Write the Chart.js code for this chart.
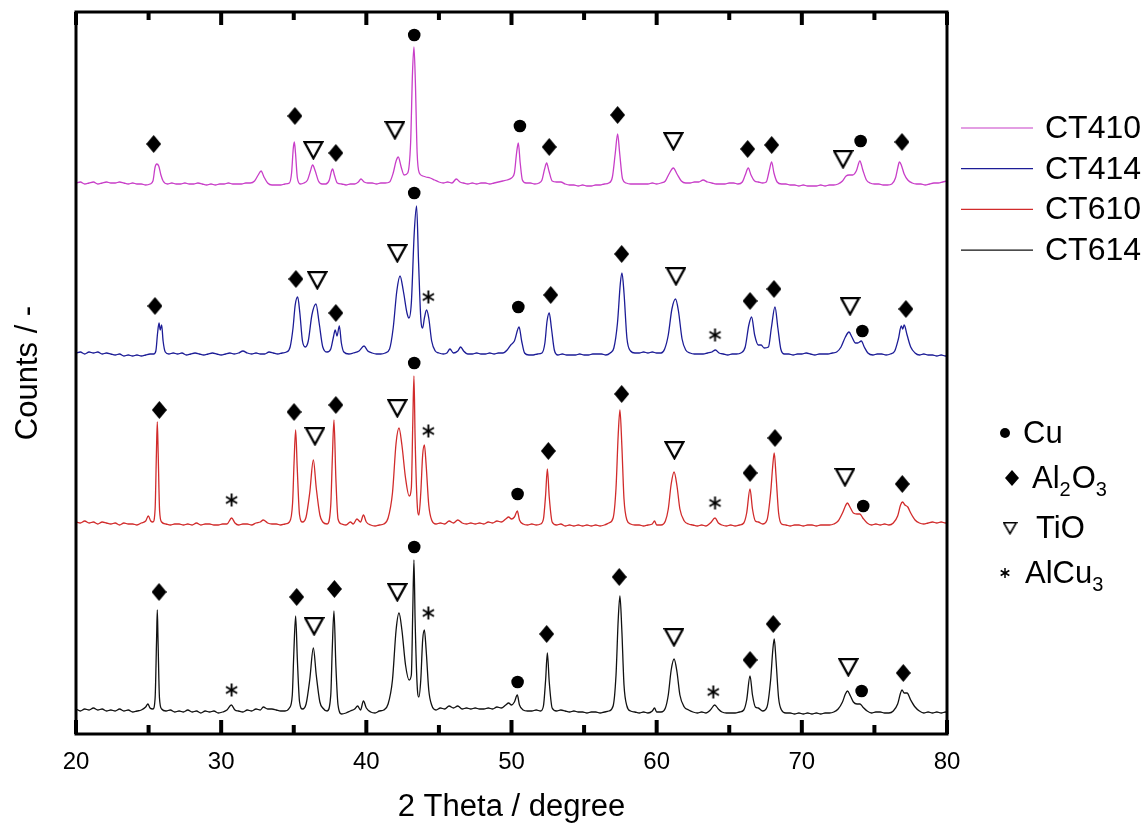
<!DOCTYPE html>
<html>
<head>
<meta charset="utf-8">
<title>XRD patterns</title>
<script src="https://cdn.jsdelivr.net/npm/chart.js@4.4.0/dist/chart.umd.min.js"></script>
<style>
  html, body { margin: 0; padding: 0; background: #fff; }
</style>
</head>
<body>
<canvas id="xrd" width="1145" height="825"></canvas>
<script>
// ---- data (2theta, counts above each pattern's own baseline) ----
const sampleNames = ['CT410', 'CT414', 'CT610', 'CT614'];
const baseOffsets = [551, 381, 211, 24];

const ct410 = [
  [20.0,0],[20.3,1],[20.6,-1],[20.9,0],[21.2,1],[21.5,-1],[21.8,0],[22.1,1],[22.4,0],[22.7,0],[23.0,1],[23.3,0],[23.6,-1],[23.9,0],
  [24.2,-1],[24.5,-1],[24.8,-2],[25.1,-1],[25.3,2],[25.45,16],[25.56,19],[25.7,17],[25.85,8],[26.0,2],[26.3,-1],[26.6,0],[26.9,-1],
  [27.2,-1],[27.5,0],[27.8,-1],[28.1,-1],[28.4,0],[28.7,-1],[29.0,-2],[29.3,-1],[29.6,-2],[29.9,-1],[30.2,-1],[30.5,0],[30.8,-1],
  [31.1,-1],[31.4,-1],[31.7,0],[32.0,0],[32.3,2],[32.55,8],[32.75,12],[32.95,6],[33.2,0],[33.5,-2],[33.8,-2],[34.1,-2],[34.4,-1],
  [34.7,0],[34.85,10],[34.97,35],[35.04,41],[35.12,30],[35.25,5],[35.45,-1],[35.7,0],[35.95,3],[36.15,12],[36.3,18],[36.48,12],
  [36.7,2],[36.95,-1],[37.2,-1],[37.45,3],[37.6,12],[37.68,14],[37.8,8],[38.0,0],[38.3,-1],[38.6,-2],[38.9,-1],[39.2,-1],[39.45,1],
  [39.63,4],[39.85,1],[40.1,0],[40.4,0],[40.7,-1],[41.0,0],[41.3,0],[41.6,1],[41.85,10],[42.05,22],[42.2,26],[42.4,16],[42.6,8],
  [42.85,10],[43.05,40],[43.18,110],[43.28,136],[43.38,100],[43.5,30],[43.65,10],[43.9,7],[44.1,6],[44.4,5],[44.7,3],[45.0,1],
  [45.3,0],[45.6,1],[45.9,0],[46.2,4],[46.45,1],[46.7,0],[47.0,-1],[47.3,0],[47.6,-1],[47.9,0],[48.2,0],[48.5,-1],[48.8,0],[49.1,1],
  [49.4,2],[49.7,3],[50.0,5],[50.2,10],[50.35,30],[50.47,40],[50.6,20],[50.75,3],[51.0,0],[51.3,0],[51.6,-1],[51.9,0],[52.1,3],
  [52.28,14],[52.42,20],[52.58,12],[52.8,2],[53.1,1],[53.4,1],[53.7,-1],[54.0,-2],[54.3,-2],[54.6,-3],[54.9,-2],[55.2,-3],[55.5,-3],
  [55.8,-2],[56.1,-2],[56.4,-1],[56.7,0],[56.95,6],[57.15,30],[57.31,49],[57.45,30],[57.65,4],[57.9,0],[58.2,-1],[58.5,-1],[58.8,-1],
  [59.1,-1],[59.4,-1],[59.7,0],[60.0,-1],[60.3,0],[60.6,2],[60.85,9],[61.15,15],[61.4,9],[61.7,2],[62.0,0],[62.3,0],[62.6,1],
  [62.9,1],[63.2,3],[63.5,1],[63.8,0],[64.1,-1],[64.4,-1],[64.7,-1],[65.0,0],[65.3,0],[65.6,-1],[65.9,1],[66.1,8],[66.31,15],
  [66.5,8],[66.75,2],[67.0,1],[67.3,0],[67.55,1],[67.75,12],[67.92,21],[68.08,10],[68.3,1],[68.6,-1],[68.9,-1],[69.2,-2],[69.5,-2],
  [69.8,-3],[70.1,-2],[70.4,-3],[70.7,-3],[71.0,-3],[71.3,-2],[71.6,-3],[71.9,-2],[72.2,-2],[72.5,-1],[72.8,2],[73.05,7],[73.25,8],
  [73.5,8],[73.75,12],[74.0,22],[74.2,13],[74.45,3],[74.7,0],[75.0,-1],[75.3,-1],[75.6,-2],[75.9,-2],[76.2,-1],[76.45,5],[76.62,16],
  [76.72,21],[76.85,18],[77.05,9],[77.3,3],[77.6,0],[77.9,-1],[78.2,-1],[78.5,-2],[78.8,-1],[79.1,0],[79.4,0],[79.7,1],[80.0,2]
];

const ct414 = [
  [20.0,0],[20.3,1],[20.6,-1],[20.9,1],[21.2,0],[21.5,1],[21.8,-1],[22.1,0],[22.4,-1],[22.7,-2],[23.0,-1],[23.3,-3],[23.6,-2],[23.9,-3],
  [24.2,-2],[24.5,-3],[24.8,-2],[25.1,-1],[25.35,-1],[25.5,2],[25.62,20],[25.72,30],[25.8,23],[25.9,28],[26.0,12],[26.15,1],[26.4,-1],
  [26.7,0],[27.0,-1],[27.3,0],[27.6,-2],[27.9,-1],[28.2,0],[28.5,-1],[28.8,-2],[29.1,-1],[29.4,0],[29.7,-1],[30.0,-2],[30.3,-1],
  [30.6,0],[30.9,-1],[31.2,0],[31.5,2],[31.8,0],[32.1,-1],[32.4,0],[32.7,-1],[33.0,-1],[33.3,1],[33.6,0],[33.9,-1],[34.2,0],[34.5,1],
  [34.75,6],[34.95,25],[35.1,48],[35.27,56],[35.42,40],[35.6,12],[35.8,6],[36.0,12],[36.25,38],[36.53,49],[36.75,30],[37.0,6],
  [37.3,1],[37.55,4],[37.72,15],[37.86,23],[37.98,17],[38.14,27],[38.28,10],[38.45,1],[38.8,-1],[39.1,0],[39.5,2],[39.84,7],[40.1,2],
  [40.4,0],[40.7,-1],[41.0,-1],[41.3,0],[41.6,4],[41.85,25],[42.1,62],[42.32,77],[42.55,62],[42.8,40],[42.94,35],[43.1,50],[43.3,120],
  [43.46,147],[43.6,90],[43.75,35],[43.88,25],[44.0,35],[44.15,43],[44.3,35],[44.5,12],[44.75,2],[45.0,0],[45.3,-1],[45.55,0],
  [45.76,4],[46.0,0],[46.3,2],[46.5,6],[46.7,2],[47.0,-1],[47.3,-1],[47.6,0],[47.9,-1],[48.2,-1],[48.5,0],[48.8,-1],[49.1,0],[49.4,0],
  [49.7,3],[49.95,8],[50.2,12],[50.52,26],[50.7,12],[50.9,0],[51.2,-2],[51.5,-2],[51.8,-1],[52.1,0],[52.3,10],[52.45,32],[52.6,40],
  [52.75,25],[52.95,3],[53.2,-2],[53.5,-1],[53.8,-2],[54.1,-2],[54.4,-2],[54.7,-1],[55.0,-2],[55.3,-2],[55.6,-1],[55.9,-1],[56.2,-1],
  [56.5,-2],[56.8,0],[57.05,5],[57.3,30],[57.5,70],[57.61,80],[57.75,60],[57.95,15],[58.2,2],[58.5,0],[58.8,0],[59.1,1],[59.4,0],
  [59.7,1],[60.0,0],[60.3,0],[60.55,4],[60.8,18],[61.05,44],[61.3,54],[61.5,42],[61.75,14],[62.0,3],[62.3,0],[62.6,-1],[62.9,-1],
  [63.2,-1],[63.5,0],[63.8,1],[64.05,3],[64.3,0],[64.6,-1],[64.9,-2],[65.2,-1],[65.5,-1],[65.8,0],[66.1,6],[66.35,28],[66.54,36],
  [66.75,18],[67.0,8],[67.2,8],[67.4,5],[67.7,6],[67.9,25],[68.15,46],[68.35,25],[68.55,4],[68.8,-1],[69.1,-1],[69.4,-2],[69.7,-1],
  [70.0,-1],[70.3,0],[70.6,-1],[70.9,-2],[71.2,-1],[71.5,-1],[71.8,-1],[72.1,0],[72.4,1],[72.7,6],[73.0,16],[73.25,21],[73.45,16],
  [73.7,10],[73.85,10],[74.1,12],[74.3,6],[74.55,0],[74.9,-2],[75.2,-1],[75.5,-1],[75.8,-2],[76.1,-1],[76.4,2],[76.65,14],[76.85,27],
  [76.95,24],[77.05,28],[77.25,18],[77.5,6],[77.8,0],[78.1,-2],[78.4,-1],[78.7,-2],[79.0,-2],[79.3,-3],[79.6,-2],[79.9,-3],[80.0,-3]
];

const ct610 = [
  [20.0,1],[20.3,0],[20.6,2],[20.9,0],[21.2,1],[21.5,-1],[21.8,1],[22.1,0],[22.4,-1],[22.7,0],[23.0,-2],[23.3,0],[23.6,-1],[23.9,-1],
  [24.2,-2],[24.5,0],[24.8,2],[24.98,7],[25.15,2],[25.3,1],[25.45,14],[25.54,70],[25.6,101],[25.66,70],[25.76,12],[25.9,1],[26.2,-1],
  [26.5,-2],[26.8,-1],[27.1,-1],[27.4,-2],[27.7,-1],[28.0,-2],[28.3,0],[28.6,-2],[28.9,-1],[29.2,-1],[29.5,-2],[29.8,-2],[30.1,-1],
  [30.4,-1],[30.72,5],[30.95,0],[31.2,-2],[31.5,-1],[31.8,-1],[32.1,-2],[32.4,0],[32.7,1],[32.9,3],[33.2,0],[33.5,-1],[33.8,-1],
  [34.1,-2],[34.4,-1],[34.7,1],[34.92,20],[35.02,60],[35.13,93],[35.24,55],[35.4,8],[35.6,1],[35.85,6],[36.1,30],[36.35,63],[36.55,35],
  [36.8,8],[37.0,1],[37.3,-1],[37.55,18],[37.66,65],[37.77,103],[37.9,45],[38.05,4],[38.3,-1],[38.6,-2],[38.9,1],[39.1,-1],[39.35,4],
  [39.6,1],[39.8,8],[40.0,1],[40.3,-2],[40.6,-3],[40.9,-2],[41.2,-1],[41.5,5],[41.8,30],[42.05,80],[42.25,95],[42.45,78],[42.7,45],
  [42.95,27],[43.1,35],[43.2,100],[43.28,147],[43.36,85],[43.5,20],[43.62,8],[43.75,30],[43.88,68],[44.0,78],[44.12,58],[44.3,18],
  [44.5,3],[44.8,-1],[45.1,0],[45.4,-1],[45.7,2],[46.0,0],[46.3,3],[46.6,0],[46.9,-1],[47.2,0],[47.5,-1],[47.8,0],[48.1,-1],[48.4,1],
  [48.7,0],[49.0,2],[49.3,1],[49.6,4],[49.8,6],[50.0,4],[50.2,6],[50.4,12],[50.55,3],[50.8,-1],[51.1,-2],[51.4,-1],[51.7,-2],[52.0,-1],
  [52.2,4],[52.35,28],[52.47,54],[52.6,26],[52.8,1],[53.1,-2],[53.4,-1],[53.7,-3],[54.0,-2],[54.3,-3],[54.6,-2],[54.9,-3],[55.2,-2],
  [55.5,-3],[55.8,-2],[56.1,-3],[56.4,-2],[56.7,0],[57.0,5],[57.2,35],[57.35,88],[57.47,113],[57.6,78],[57.75,24],[57.95,3],[58.2,-1],
  [58.5,-2],[58.8,-2],[59.1,-3],[59.4,-2],[59.7,-1],[59.85,2],[60.0,-2],[60.3,-2],[60.6,2],[60.8,14],[61.0,39],[61.2,51],[61.4,37],
  [61.6,14],[61.9,2],[62.2,-1],[62.5,-2],[62.8,-3],[63.1,-2],[63.4,-3],[63.7,0],[64.02,5],[64.25,0],[64.5,-2],[64.8,-3],[65.1,-2],
  [65.4,-3],[65.7,-2],[66.0,0],[66.2,10],[66.43,34],[66.6,14],[66.8,2],[67.0,1],[67.3,-1],[67.6,3],[67.85,30],[68.0,58],[68.1,70],
  [68.22,48],[68.4,10],[68.6,-1],[68.9,-2],[69.2,-3],[69.5,-2],[69.8,-2],[70.1,-3],[70.4,-2],[70.7,-2],[71.0,-3],[71.3,-2],[71.6,-2],
  [71.9,-2],[72.2,-1],[72.5,2],[72.8,10],[73.0,17],[73.13,20],[73.35,15],[73.55,10],[73.8,9],[74.0,9],[74.2,5],[74.5,0],[74.8,-2],
  [75.1,-1],[75.4,-2],[75.7,-1],[76.0,-2],[76.3,0],[76.6,7],[76.8,18],[76.94,21],[77.1,18],[77.3,16],[77.5,10],[77.8,3],[78.1,0],
  [78.4,-1],[78.7,0],[79.0,1],[79.3,0],[79.6,1],[79.9,0],[80.0,1]
];

const ct614 = [
  [20.0,1],[20.3,-1],[20.6,1],[20.9,0],[21.2,2],[21.5,0],[21.8,1],[22.1,-1],[22.4,0],[22.7,-1],[23.0,1],[23.3,-1],[23.6,0],[23.9,-2],
  [24.2,-1],[24.5,0],[24.8,3],[24.95,6],[25.1,2],[25.3,1],[25.45,12],[25.55,70],[25.6,100],[25.65,70],[25.75,12],[25.9,1],[26.2,-1],
  [26.5,0],[26.8,-2],[27.1,-1],[27.4,-2],[27.7,0],[28.0,-2],[28.3,-1],[28.6,-3],[28.9,-1],[29.2,-2],[29.5,-1],[29.8,-3],[30.1,-2],
  [30.4,0],[30.7,5],[30.95,0],[31.2,-1],[31.5,-2],[31.8,0],[32.1,-1],[32.4,1],[32.7,0],[32.9,3],[33.2,1],[33.5,1],[33.8,0],[34.1,-1],
  [34.4,-1],[34.7,2],[34.9,15],[35.0,55],[35.13,94],[35.25,50],[35.4,8],[35.6,1],[35.85,6],[36.1,30],[36.35,62],[36.55,35],[36.8,8],
  [37.0,2],[37.3,-1],[37.55,15],[37.65,60],[37.77,99],[37.9,45],[38.05,5],[38.3,-4],[38.6,-3],[38.9,-1],[39.2,1],[39.4,4],[39.6,0],
  [39.8,9],[40.0,2],[40.3,-2],[40.6,-3],[40.9,-1],[41.2,0],[41.5,6],[41.8,30],[42.05,80],[42.25,97],[42.45,80],[42.7,45],[42.95,30],
  [43.1,35],[43.2,100],[43.28,150],[43.36,90],[43.5,25],[43.62,13],[43.75,30],[43.88,70],[44.0,80],[44.12,60],[44.3,20],[44.5,5],
  [44.8,0],[45.1,2],[45.4,1],[45.7,4],[46.0,2],[46.3,4],[46.6,1],[46.9,2],[47.2,1],[47.5,2],[47.8,1],[48.1,1],[48.4,2],[48.7,1],
  [49.0,3],[49.3,2],[49.6,5],[49.8,7],[50.0,5],[50.2,8],[50.4,15],[50.55,5],[50.8,0],[51.1,-1],[51.4,-1],[51.7,0],[52.0,-1],[52.2,4],
  [52.35,30],[52.47,57],[52.6,28],[52.8,2],[53.1,-1],[53.4,0],[53.7,-1],[54.0,-2],[54.3,-1],[54.6,-2],[54.9,-2],[55.2,-3],[55.5,-2],
  [55.8,-2],[56.1,-3],[56.4,-2],[56.7,-1],[57.0,4],[57.2,35],[57.35,90],[57.47,114],[57.6,80],[57.75,25],[57.95,4],[58.2,-1],[58.5,-2],
  [58.8,-3],[59.1,-2],[59.4,-3],[59.7,-1],[59.85,2],[60.0,-2],[60.3,-2],[60.6,2],[60.8,15],[61.0,40],[61.2,51],[61.4,38],[61.6,15],
  [61.9,3],[62.2,0],[62.5,-2],[62.8,-3],[63.1,-2],[63.4,-3],[63.7,0],[64.0,5],[64.25,1],[64.5,-2],[64.8,-3],[65.1,-3],[65.4,-3],
  [65.7,-2],[66.0,0],[66.2,10],[66.43,34],[66.6,15],[66.8,3],[67.0,2],[67.3,-1],[67.6,3],[67.85,30],[68.0,60],[68.1,71],[68.22,50],
  [68.4,12],[68.6,0],[68.9,-3],[69.2,-3],[69.5,-4],[69.8,-3],[70.1,-4],[70.4,-3],[70.7,-4],[71.0,-3],[71.3,-4],[71.6,-3],[71.9,-3],
  [72.2,-2],[72.5,1],[72.8,8],[73.0,16],[73.15,19],[73.35,14],[73.55,8],[73.8,6],[74.0,6],[74.2,3],[74.5,-1],[74.8,-3],[75.1,-2],
  [75.4,-2],[75.7,-3],[76.0,-3],[76.3,-1],[76.6,6],[76.8,17],[76.9,20],[77.05,17],[77.25,17],[77.5,10],[77.8,3],[78.1,-1],[78.4,-3],
  [78.7,-2],[79.0,-3],[79.3,-2],[79.6,-3],[79.9,-2],[80.0,-3]
];

// phase markers: [2theta, counts on the stacked axis]
const cuMarks = [
  [43.3,699],[50.58,608],[74.05,593],
  [43.3,541],[50.47,427],[74.17,403],
  [43.3,371],[50.42,240],[74.23,228],
  [43.3,187],[50.42,52],[74.12,43]
];
const al2o3Marks = [
  [25.35,590],[35.08,618],[37.9,581],[52.6,587],[57.31,619],[66.27,585],[67.92,589],[76.9,592],
  [25.44,428],[35.15,455],[37.9,421],[52.7,439],[57.59,480],[66.43,433],[68.08,445],[77.17,425],
  [25.74,324],[35.02,322],[37.9,329],[52.54,283],[57.59,340],[66.43,261],[68.15,296],[76.92,250],
  [25.72,142],[35.2,137],[37.8,145],[52.42,100],[57.42,157],[66.43,74],[68.03,110],[76.99,61]
];
const tioMarks = [
  [36.35,584],[41.97,604],[61.15,593],[72.84,575],
  [36.62,454],[42.13,481],[61.33,458],[73.32,428],
  [36.46,298],[42.13,326],[61.22,284],[72.97,257],
  [36.4,108],[42.13,142],[61.19,97],[73.2,67]
];
const alcu3Marks = [
  [44.27,437],[64.02,399],
  [30.72,234],[44.27,303],[64.02,231],
  [30.72,44],[44.27,121],[63.9,42]
];
const phaseNames = ['Cu', 'Al2O3', 'TiO', 'AlCu3'];

const majorTicks = [20, 30, 40, 50, 60, 70, 80];
const minorTicks = [25, 35, 45, 55, 65, 75];

// ---- styles ----
const FONT = "'Liberation Sans', Arial, Helvetica, sans-serif";
const sampleColors = ['#c83ec8', '#1c1c96', '#d12b2b', '#111111'];
const patterns = [ct410, ct414, ct610, ct614];

function diamondImg(w, h) {
  const c = document.createElement('canvas');
  c.width = w; c.height = h;
  const g = c.getContext('2d');
  g.fillStyle = '#000';
  g.beginPath();
  g.moveTo(w / 2, 0); g.lineTo(w, h / 2); g.lineTo(w / 2, h); g.lineTo(0, h / 2);
  g.closePath(); g.fill();
  return c;
}
function triangleImg(w, h, lw) {
  const c = document.createElement('canvas');
  c.width = w; c.height = h;
  const g = c.getContext('2d');
  const p = lw / 2 + 0.5;
  g.fillStyle = '#fff'; g.strokeStyle = '#000'; g.lineWidth = lw; g.lineJoin = 'miter';
  g.beginPath();
  g.moveTo(p, p + 0.5); g.lineTo(w - p, p + 0.5); g.lineTo(w / 2, h - p);
  g.closePath(); g.fill(); g.stroke();
  return c;
}
function asteriskImg(s, lw) {
  const c = document.createElement('canvas');
  c.width = s; c.height = s;
  const g = c.getContext('2d');
  const r = s / 2 - 1;
  g.strokeStyle = '#000'; g.lineWidth = lw;
  g.beginPath();
  for (const a of [0, 60, 120]) {
    const t = a * Math.PI / 180;
    g.moveTo(s / 2 + Math.sin(t) * r, s / 2 - Math.cos(t) * r);
    g.lineTo(s / 2 - Math.sin(t) * r, s / 2 + Math.cos(t) * r);
  }
  g.stroke();
  return c;
}

const diamondBig = diamondImg(15, 18), diamondSmall = diamondImg(14, 16);
const triBig = triangleImg(21, 20, 2.2), triSmall = triangleImg(15, 14, 1.6);
const starBig = asteriskImg(15, 1.9), starSmall = asteriskImg(12, 1.5);

const toXY = arr => arr.map(([x, y]) => ({ x, y }));

const datasets = patterns.map((pts, i) => ({
  label: sampleNames[i],
  data: pts.map(([t, c]) => ({ x: t, y: c + baseOffsets[i] })),
  borderColor: sampleColors[i],
  borderWidth: 1.3,
  pointRadius: 0,
  cubicInterpolationMode: 'monotone',
  order: 2
}));

const markerSets = [
  { label: 'Cu', data: toXY(cuMarks), pointStyle: 'circle', pointRadius: 6.3, pointBackgroundColor: '#000', pointBorderColor: '#000', pointBorderWidth: 0 },
  { label: 'Al2O3', data: toXY(al2o3Marks), pointStyle: diamondBig, pointRadius: 9 },
  { label: 'TiO', data: toXY(tioMarks), pointStyle: triBig, pointRadius: 10 },
  { label: 'AlCu3', data: toXY(alcu3Marks), pointStyle: starBig, pointRadius: 7 }
];
markerSets.forEach(m => datasets.push(Object.assign({ showLine: false, order: 1, clip: false }, m)));

// frame with inward ticks on bottom and top
const frameTicks = {
  id: 'frameTicks',
  afterDraw(chart) {
    const { ctx, chartArea: a } = chart;
    const xs = chart.scales.x;
    ctx.save();
    ctx.strokeStyle = '#000';
    ctx.lineWidth = 4;
    ctx.lineCap = 'butt';
    ctx.beginPath();
    majorTicks.forEach(v => {
      const px = xs.getPixelForValue(v);
      ctx.moveTo(px, a.bottom); ctx.lineTo(px, a.bottom - 14);
      ctx.moveTo(px, a.top); ctx.lineTo(px, a.top + 13);
    });
    minorTicks.forEach(v => {
      const px = xs.getPixelForValue(v);
      ctx.moveTo(px, a.bottom); ctx.lineTo(px, a.bottom - 9);
      ctx.moveTo(px, a.top); ctx.lineTo(px, a.top + 8);
    });
    ctx.stroke();
    ctx.lineWidth = 3;
    ctx.strokeRect(a.left, a.top, a.right - a.left, a.bottom - a.top);
    ctx.restore();
  }
};

// legends on the right
function drawFormula(ctx, text, x, y, size) {
  const parts = text.match(/[A-Za-z]+|\d+/g);
  parts.forEach(p => {
    const sub = /\d/.test(p);
    ctx.font = (sub ? Math.round(size * 0.66) : size) + 'px ' + FONT;
    ctx.fillText(p, x, sub ? y + size * 0.38 : y);
    x += ctx.measureText(p).width + (sub ? 1 : 0);
  });
}

const sideLegend = {
  id: 'sideLegend',
  afterDraw(chart) {
    const ctx = chart.ctx;
    ctx.save();
    ctx.textBaseline = 'middle';
    ctx.textAlign = 'left';
    sampleNames.forEach((name, i) => {
      const y = 128 + i * 40.7;
      ctx.strokeStyle = sampleColors[i];
      ctx.lineWidth = 1.2;
      ctx.beginPath(); ctx.moveTo(961, y); ctx.lineTo(1033, y); ctx.stroke();
      ctx.fillStyle = '#000';
      ctx.font = '32px ' + FONT;
      ctx.fillText(name, 1045, y + 1);
    });

    const symbols = [
      { y: 433, sx: 1005, tx: 1023 },
      { y: 478, sx: 1012, tx: 1032 },
      { y: 528, sx: 1010, tx: 1036 },
      { y: 573, sx: 1005, tx: 1025 }
    ];
    ctx.fillStyle = '#000';
    ctx.beginPath(); ctx.arc(symbols[0].sx, symbols[0].y, 5, 0, Math.PI * 2); ctx.fill();
    ctx.drawImage(diamondSmall, symbols[1].sx - 7, symbols[1].y - 8);
    ctx.drawImage(triSmall, symbols[2].sx - 7.5, symbols[2].y - 7);
    ctx.drawImage(starSmall, symbols[3].sx - 6, symbols[3].y - 6);
    phaseNames.forEach((n, i) => drawFormula(ctx, n, symbols[i].tx, symbols[i].y + 1, 31));
    ctx.restore();
  }
};

new Chart(document.getElementById('xrd'), {
  type: 'line',
  data: { datasets },
  options: {
    responsive: false,
    animation: false,
    events: [],
    layout: { padding: { top: 12, right: 198, bottom: 0, left: 0 } },
    plugins: { legend: { display: false }, tooltip: { enabled: false } },
    scales: {
      x: {
        type: 'linear', min: 20, max: 80,
        grid: { display: false, drawTicks: false },
        border: { display: false },
        ticks: { stepSize: 10, color: '#000', font: { family: FONT, size: 24 }, padding: 14, maxRotation: 0, autoSkip: false },
        title: { display: true, text: '2 Theta / degree', color: '#000', font: { family: FONT, size: 31, lineHeight: 1 }, padding: { top: 0, bottom: 2 } },
        afterFit(s) { s.height = 91; }
      },
      y: {
        type: 'linear', min: 0, max: 722,
        grid: { display: false, drawTicks: false },
        border: { display: false },
        ticks: { display: false },
        title: { display: true, text: 'Counts / -', color: '#000', font: { family: FONT, size: 31, lineHeight: 1 }, padding: { top: 13, bottom: 0 } },
        afterFit(s) { s.width = 76; }
      }
    }
  },
  plugins: [frameTicks, sideLegend]
});
</script>
</body>
</html>
